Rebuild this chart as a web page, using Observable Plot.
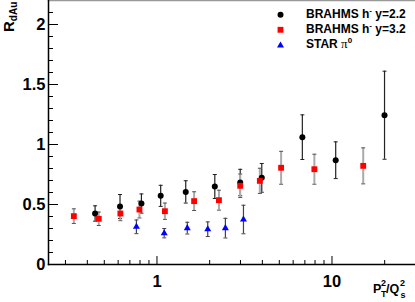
<!DOCTYPE html>
<html><head><meta charset="utf-8">
<script src="https://cdn.jsdelivr.net/npm/d3@7"></script>
<script src="https://cdn.jsdelivr.net/npm/@observablehq/plot@0.6"></script>
<style>body{margin:0;background:#fff} svg{display:block}</style>
</head><body><div id="chart"></div>
<script>
// BRAHMS h- y=2.2
const brahms22X = [0.443, 0.615, 0.815, 1.05, 1.46, 2.14, 2.99, 3.97, 6.77, 10.5, 19.96];
const brahms22Y = [0.425, 0.483, 0.508, 0.572, 0.605, 0.65, 0.683, 0.722, 1.061, 0.869, 1.244];
const brahms22Err = [0.064, 0.1, 0.08, 0.088, 0.093, 0.1, 0.11, 0.12, 0.186, 0.153, 0.367];
// BRAHMS h- y=3.2
const brahms32X = [0.335, 0.465, 0.618, 0.794, 1.11, 1.63, 2.26, 2.99, 3.87, 5.12, 7.93, 15.08];
const brahms32Y = [0.403, 0.381, 0.425, 0.458, 0.444, 0.528, 0.536, 0.656, 0.697, 0.806, 0.794, 0.822];
const brahms32Err = [0.061, 0.056, 0.06, 0.07, 0.068, 0.078, 0.083, 0.098, 0.105, 0.137, 0.125, 0.15];
// STAR pi0
const starX = [0.763, 1.10, 1.49, 1.95, 2.46, 3.12];
const starY = [0.314, 0.261, 0.303, 0.294, 0.303, 0.375];
const starErr = [0.057, 0.039, 0.049, 0.061, 0.082, 0.119];

const xMajorTicks = [1, 10];
const xMinorTicks = [0.3, 0.4, 0.5, 0.6, 0.7, 0.8, 0.9, 2, 3, 4, 5, 6, 7, 8, 9, 20];
const yMajorTicks = [0, 0.5, 1, 1.5, 2];
const yMinorTicks = [0.1,0.2,0.3,0.4,0.6,0.7,0.8,0.9,1.1,1.2,1.3,1.4,1.6,1.7,1.8,1.9,2.1];

const legendLabels = ["BRAHMS h", "BRAHMS h", "STAR "];

const toRows = (X, Y, E) => X.map((x, i) => ({x, y: Y[i], lo: Y[i] - E[i], hi: Y[i] + E[i]}));
const s22 = toRows(brahms22X, brahms22Y, brahms22Err);
const s32 = toRows(brahms32X, brahms32Y, brahms32Err);
const sStar = toRows(starX, starY, starErr);

const W = 415, H = 302, mL = 48, mR = 0, mT = 0, mB = 38;
const innerW = W - mL - mR, innerH = H - mT - mB;

const capSymbol = {draw(ctx) { ctx.moveTo(-2, 0); ctx.lineTo(2, 0); }};
const FONT = "'Liberation Sans', Arial, Helvetica, sans-serif";

function errMarks(rows, barColor, barWidth, capColor) {
  return [
    Plot.ruleX(rows, {x: "x", y1: "lo", y2: "hi", stroke: barColor, strokeWidth: barWidth}),
    Plot.dot(rows, {x: "x", y: "lo", symbol: capSymbol, stroke: capColor, strokeWidth: 1, fill: "none", r: 2}),
    Plot.dot(rows, {x: "x", y: "hi", symbol: capSymbol, stroke: capColor, strokeWidth: 1, fill: "none", r: 2})
  ];
}

const legendRows = [
  {dy: 14.3, symbol: "circle", fill: "#000", r: 3},
  {dy: 29.3, symbol: "square", fill: "#ff0000", r: 3.3},
  {dy: 45, symbol: "triangle", fill: "#0000ff", r: 2.6}
];

const plot = Plot.plot({
  width: W, height: H,
  marginLeft: mL, marginRight: mR, marginTop: mT, marginBottom: mB,
  x: {type: "log", domain: [0.24, 30]},
  y: {domain: [0, 2.2]},
  style: {fontFamily: FONT, background: "#fff", color: "#000"},
  marks: [
    Plot.frame({anchor: "top", stroke: "#999", strokeWidth: 1.5}),
    Plot.frame({anchor: "left", stroke: "#000", strokeWidth: 1.5}),
    Plot.frame({anchor: "bottom", stroke: "#000", strokeWidth: 1.5}),
    Plot.tickY(yMinorTicks, {y: d => d, insetRight: innerW - 5, stroke: "#000"}),
    Plot.tickY(yMajorTicks, {y: d => d, insetRight: innerW - 10, stroke: "#000"}),
    Plot.tickX(xMinorTicks, {x: d => d, insetTop: innerH - 4, stroke: "#000"}),
    Plot.tickX(xMajorTicks, {x: d => d, insetTop: innerH - 8, stroke: "#000"}),
    Plot.axisY({ticks: yMajorTicks, tickSize: 0, tickPadding: 3, fontSize: 16.5, fontWeight: "bold", label: null, tickFormat: d => String(d)}),
    Plot.axisX({ticks: xMajorTicks, tickSize: 0, tickPadding: 11, fontSize: 16.5, fontWeight: "bold", label: null, tickFormat: d => String(d)}),
    ...errMarks(s22, "#222", 1.2, "#222"),
    ...errMarks(s32, "#aaa", 2, "#555"),
    ...errMarks(sStar, "#444", 1.2, "#444"),
    Plot.dot(s22, {x: "x", y: "y", symbol: "circle", r: 3, fill: "#000"}),
    Plot.dot(s32, {x: "x", y: "y", symbol: "square", r: 3.3, fill: "#ff0000"}),
    Plot.dot(sStar, {x: "x", y: "y", symbol: "triangle", r: 2.6, fill: "#0000ff"}),
    ...legendRows.map(d => Plot.dot([d], {frameAnchor: "top-left", dx: 232, dy: d.dy, symbol: d.symbol, r: d.r, fill: d.fill}))
  ]
});

const svg = d3.select(plot);
// legend texts
const lg = svg.append("g").attr("font-family", FONT).attr("font-weight", "bold").attr("font-size", 12).attr("fill", "#000").attr("text-anchor", "start");
const t1 = lg.append("text").attr("x", 306).attr("y", 17.6);
t1.append("tspan").text(legendLabels[0]);
t1.append("tspan").attr("dy", -5).attr("font-size", 8).text("-");
t1.append("tspan").attr("dy", 5).text(" y=2.2");
const t2 = lg.append("text").attr("x", 306).attr("y", 32.6);
t2.append("tspan").text(legendLabels[1]);
t2.append("tspan").attr("dy", -5).attr("font-size", 8).text("-");
t2.append("tspan").attr("dy", 5).text(" y=3.2");
const t3 = lg.append("text").attr("x", 306).attr("y", 47.8);
t3.append("tspan").text(legendLabels[2]);
t3.append("tspan").attr("font-family", "'Liberation Serif', 'DejaVu Serif', serif").attr("font-weight", "normal").attr("font-size", 13).text("π");
t3.append("tspan").attr("dy", -5).attr("font-size", 8).text("0");

// y label
const yl = svg.append("text").attr("transform", "translate(13.5,32) rotate(-90)").attr("text-anchor", "start")
  .attr("font-family", FONT).attr("font-weight", "bold").attr("font-size", 15).attr("fill", "#000");
yl.append("tspan").text("R");
yl.append("tspan").attr("dy", 3).attr("font-size", 10).text("dAu");

// x label
const xl = svg.append("g").attr("font-family", FONT).attr("font-weight", "bold").attr("fill", "#000").attr("text-anchor", "start");
xl.append("text").attr("x", 373).attr("y", 292.7).attr("font-size", 12.5).text("P");
xl.append("text").attr("x", 381).attr("y", 286).attr("font-size", 9).text("2");
xl.append("text").attr("x", 381).attr("y", 297).attr("font-size", 9).text("T");
xl.append("text").attr("x", 386).attr("y", 292.7).attr("font-size", 12.5).text("/Q");
xl.append("text").attr("x", 400).attr("y", 286).attr("font-size", 9).text("2");
xl.append("text").attr("x", 400.5).attr("y", 298).attr("font-size", 9).text("s");

document.getElementById("chart").append(plot);
</script>
</body></html>
